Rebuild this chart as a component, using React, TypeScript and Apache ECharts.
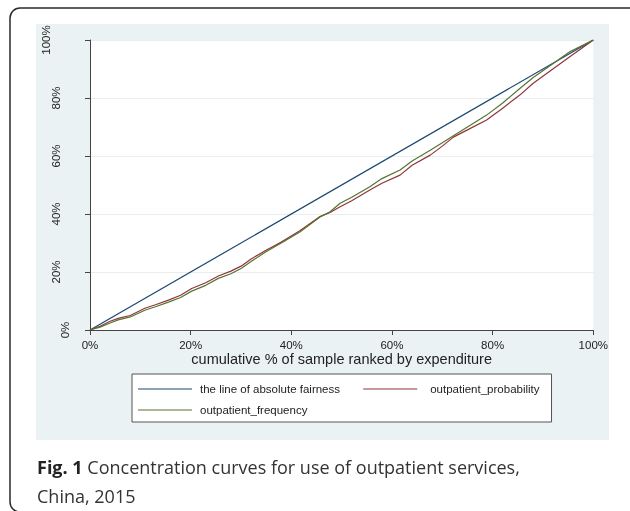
import React, { useEffect, useRef } from "react";
import * as echarts from "echarts";

const fairnessX = [0, 100];
const fairnessY = [0, 100];
const probX = [0, 2, 4, 5.6, 8, 10.9, 13, 15.6, 18, 20.2, 23, 25.5, 28, 30.1, 32, 34.8, 38, 41.7, 45.7, 47.7, 49.7, 52, 55.6, 58, 61.6, 64, 67.6, 70, 72.2, 75, 78.8, 82, 85.4, 88, 92.1, 95.4, 100];
const probY = [0, 1.3, 3.0, 4.0, 5.0, 7.5, 8.7, 10.3, 12.0, 14.3, 16.3, 18.6, 20.3, 22.1, 24.5, 27.3, 30.3, 34.2, 39.1, 40.5, 42.5, 44.6, 48.3, 50.6, 53.4, 56.8, 60.3, 63.4, 66.5, 69.0, 72.4, 76.5, 81.0, 85.0, 90.2, 94.3, 100];
const freqX = [0, 2, 4, 5.6, 8, 10.9, 13, 15.6, 18, 20.2, 23, 25.5, 28, 30.1, 32, 34.8, 38, 41.7, 45.7, 47.7, 49.7, 52, 55.6, 58, 61.6, 64, 67.6, 70, 72.2, 75, 78.8, 82, 85.4, 88, 92.1, 95.4, 100];
const freqY = [0, 1.0, 2.4, 3.5, 4.5, 6.8, 8.0, 9.6, 11.2, 13.4, 15.4, 17.8, 19.4, 21.3, 23.6, 26.8, 30.0, 33.8, 39.0, 40.8, 43.7, 45.8, 49.4, 52.2, 55.2, 58.3, 62.0, 64.6, 67.0, 70.0, 74.1, 78.3, 83.3, 87.0, 92.0, 96.0, 100];
const seriesNames = ["the line of absolute fairness", "outpatient_probability", "outpatient_frequency"];
const xTitle = "cumulative % of sample ranked by expenditure";
const captionBold = "Fig. 1";
const captionLine1 = " Concentration curves for use of outpatient services,";
const captionLine2 = "China, 2015";

const zip = (xs: number[], ys: number[]) => xs.map((x, i) => [x, ys[i]]);

export default function App() {
  const ref = useRef<HTMLDivElement>(null);
  useEffect(() => {
    if (!ref.current) return;
    const chart = echarts.init(ref.current, undefined, { renderer: "svg" });
    const font = "Liberation Sans";
    const panel = "#eaf2f3";
    const lineIcon = "path://M0,0M0,6.4H54V7.6H0ZM54,14";
    chart.setOption({
      animation: false,
      graphic: [
        { type: "rect", z: -10, shape: { x: 36, y: 24, width: 573, height: 416 }, style: { fill: panel } },
        { type: "rect", z: -9, shape: { x: 10, y: 8, width: 640, height: 504, r: 10 }, style: { fill: "none", stroke: "#2a2a2a", lineWidth: 1.5 } },
        {
          type: "text", x: 37, y: 467,
          style: {
            text: `{b|${captionBold}}{n|${captionLine1}}`,
            verticalAlign: "middle",
            rich: {
              b: { fontFamily: "Open Sans", fontWeight: "bold", fontSize: 18, fill: "#222" },
              n: { fontFamily: "Open Sans", fontSize: 18, fill: "#333" },
            },
          },
        },
        { type: "text", x: 37, y: 496, style: { text: captionLine2, verticalAlign: "middle", fontFamily: "Open Sans", fontSize: 18, fill: "#333" } },
      ],
      grid: { left: 90, right: 36.7, top: 40, bottom: 181, show: true, backgroundColor: "#fff", borderWidth: 0 },
      legend: {
        data: seriesNames.map((n) => ({ name: n, icon: lineIcon })),
        left: 132, top: 374, orient: "horizontal", width: 410,
        itemGap: 7, itemWidth: 54, itemHeight: 14,
        padding: [8, 12, 5, 6],
        borderColor: "#555", borderWidth: 1, backgroundColor: "#fff",
        formatter: (name: string) =>
          name === seriesNames[0] ? `{w|${name}}{s|\u00a0}` : name === seriesNames[1] ? `{p|${name}}` : `{q|${name}}`,
        textStyle: {
          fontFamily: font, fontSize: 11.5, color: "#222",
          rich: {
            w: { fontFamily: font, fontSize: 11.5, color: "#222", padding: [0, 0, 0, 3] },
            s: { fontFamily: font, fontSize: 11.5, color: "#222", padding: [0, 0, 0, 13] },
            p: { fontFamily: font, fontSize: 11.5, color: "#222", padding: [0, 0, 0, 8] },
            q: { fontFamily: font, fontSize: 11.5, color: "#222", padding: [0, 0, 0, 3] },
          },
        },
      },
      xAxis: {
        type: "value", min: 0, max: 100, interval: 20,
        name: xTitle, nameLocation: "middle", nameGap: 29, nameMoveOverlap: false,
        nameTextStyle: { fontFamily: font, fontSize: 14.5, color: "#222", verticalAlign: "middle", lineHeight: 15 },
        axisLine: { show: true, lineStyle: { color: "#444", width: 1 } },
        axisTick: { show: true, length: 5, lineStyle: { color: "#444" } },
        axisLabel: { formatter: "{value}%", fontFamily: font, fontSize: 11.5, color: "#222", margin: 9, lineHeight: 12 },
        splitLine: { show: false },
      },
      yAxis: {
        type: "value", min: 0, max: 100, interval: 20,
        axisLine: { show: true, lineStyle: { color: "#444", width: 1 } },
        axisTick: { show: true, length: 5, lineStyle: { color: "#444" } },
        axisLabel: {
          rotate: 90, margin: 19, fontFamily: font, fontSize: 11.5, color: "#222",
          formatter: (v: number) => (v === 100 ? `{t|${v}%}` : v === 0 ? `{z|${v}%}` : `{n|${v}%}`),
          rich: {
            t: { fontFamily: font, fontSize: 11.5, color: "#222", padding: [0, 0, 19, 0] },
            n: { fontFamily: font, fontSize: 11.5, color: "#222", padding: [0, 0, 9, 0] },
            z: { fontFamily: font, fontSize: 11.5, color: "#222" },
          },
        },
        splitLine: { show: true, lineStyle: { color: "#e6eef0", width: 1.2 } },
      },
      series: [
        { name: seriesNames[0], type: "line", data: zip(fairnessX, fairnessY), symbol: "none", lineStyle: { color: "#1a476f", width: 1.2 }, itemStyle: { color: "#1a476f" } },
        { name: seriesNames[1], type: "line", data: zip(probX, probY), symbol: "none", lineStyle: { color: "#90353b", width: 1.2 }, itemStyle: { color: "#90353b" } },
        { name: seriesNames[2], type: "line", data: zip(freqX, freqY), symbol: "none", lineStyle: { color: "#55752f", width: 1.2 }, itemStyle: { color: "#55752f" } },
      ],
    });
    return () => chart.dispose();
  }, []);
  return <div ref={ref} style={{ position: "fixed", left: 0, top: 0, width: 630, height: 511 }} />;
}
